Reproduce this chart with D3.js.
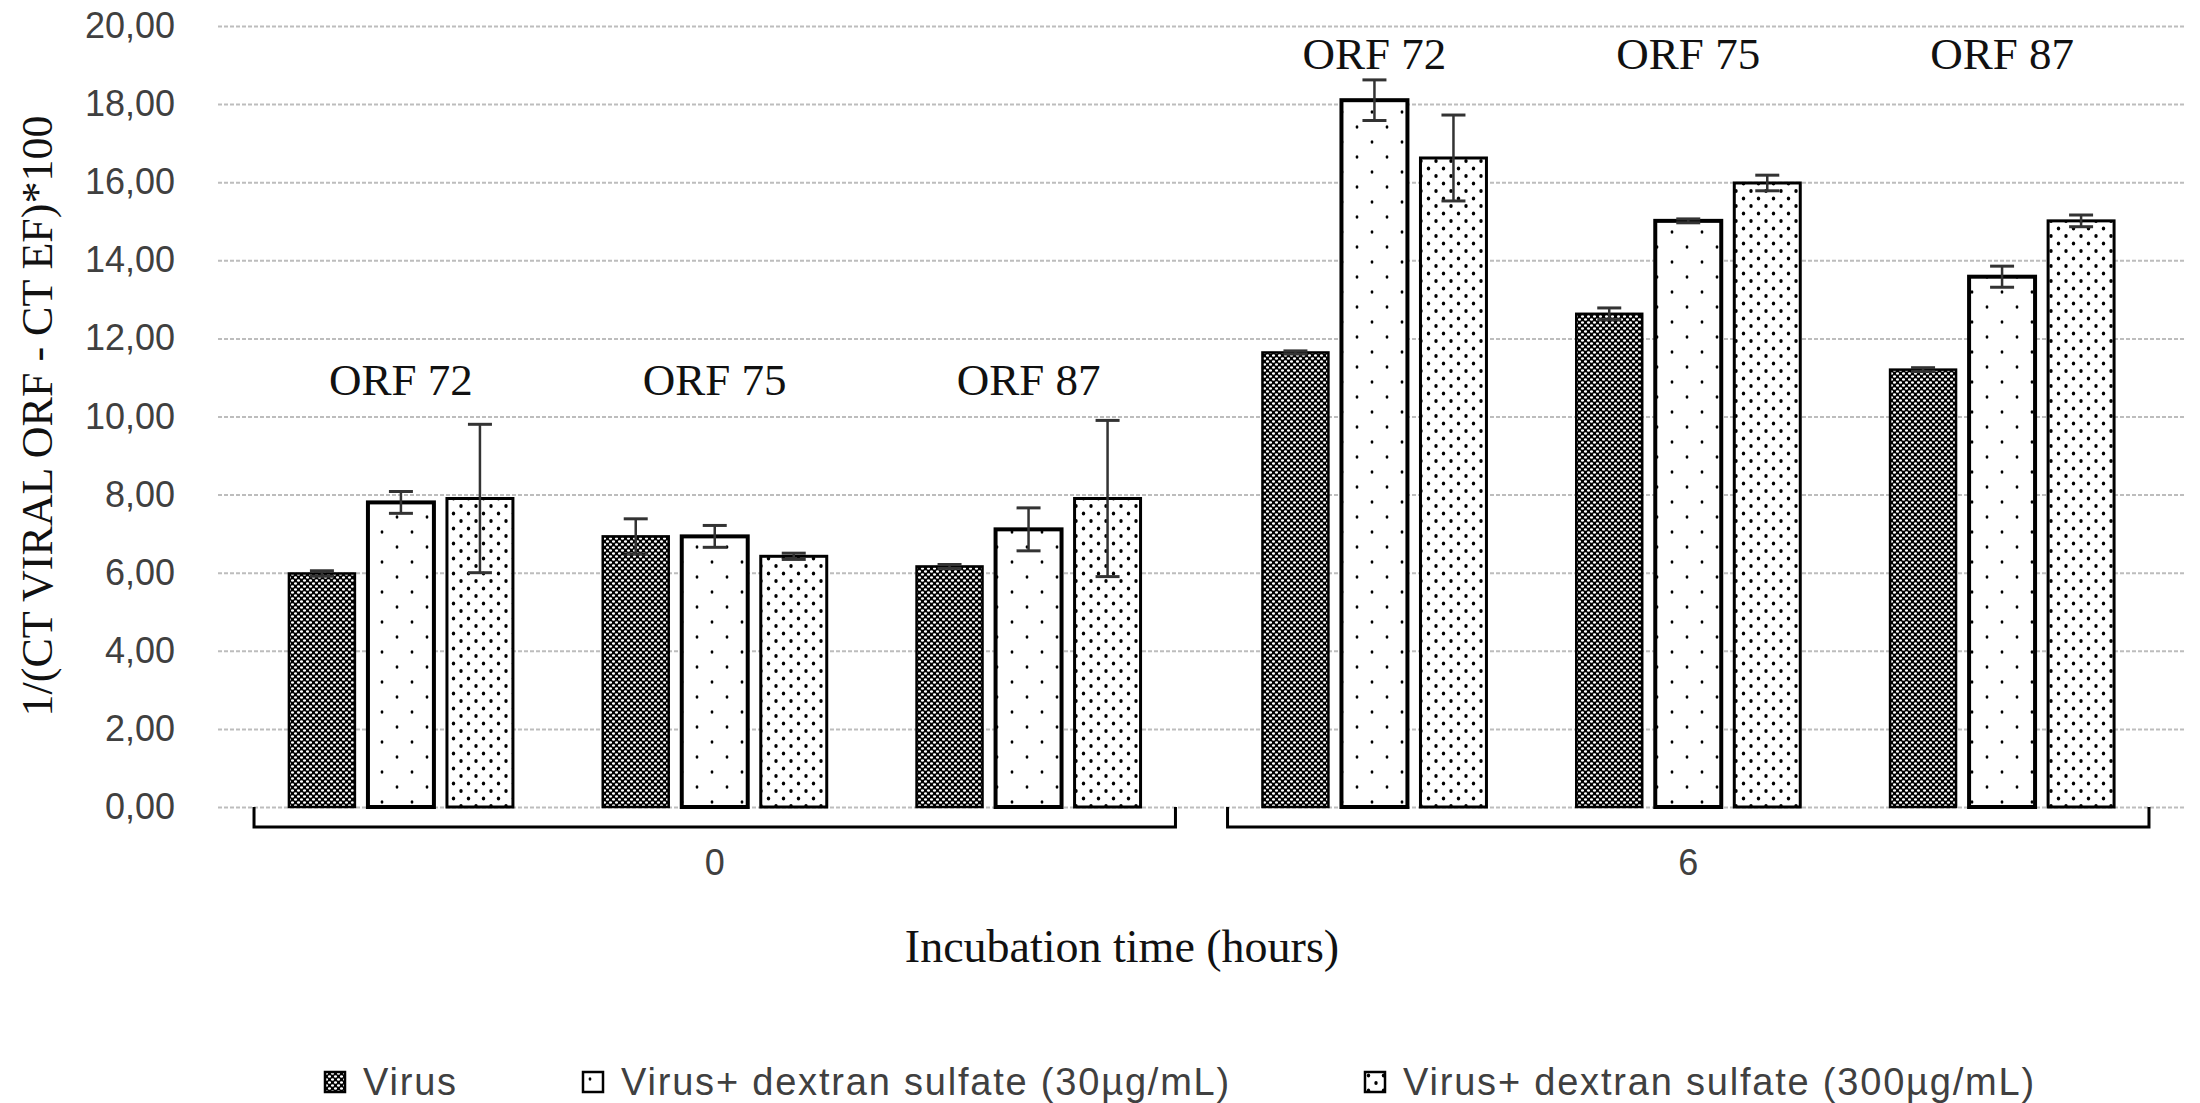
<!DOCTYPE html>
<html lang="en">
<head>
<meta charset="UTF-8">
<title>Viral ORF expression</title>
<script src="https://d3js.org/d3.v7.min.js"></script>
<style>
  body { margin: 0; background: #fff; }
  svg { display: block; }
</style>
</head>
<body>
<div id="container"></div>
<script>
// ---- data ----
const times = ['0', '6'];
const orfs = ['ORF 72', 'ORF 75', 'ORF 87'];
const series = ['Virus', 'Virus+ dextran sulfate (30µg/mL)', 'Virus+ dextran sulfate (300µg/mL)'];

// values in order: t0 ORF72, t0 ORF75, t0 ORF87, t6 ORF72, t6 ORF75, t6 ORF87
const virusVals = [5.98, 6.93, 6.16, 11.64, 12.63, 11.20];
const ds30Vals  = [7.80, 6.93, 7.11, 18.10, 15.01, 13.58];
const ds300Vals = [7.90, 6.42, 7.90, 16.62, 15.98, 15.01];

const virusErr = [0.07, 0.45, 0.05, 0.04, 0.15, 0.05];
const ds30Err  = [0.28, 0.28, 0.55, 0.52, 0.05, 0.27];
const ds300Err = [1.90, 0.08, 2.00, 1.10, 0.20, 0.15];

// height (in axis units) where the ORF names sit, per time group
const orfLabelLevel = [10.55, 18.9];

const yTicks = [0, 2, 4, 6, 8, 10, 12, 14, 16, 18, 20];

// ---- layout ----
const W = 2200, H = 1103;
const plotLeft = 218, plotRight = 2185, plotTop = 26, plotBottom = 807;

const svg = d3.select('#container').append('svg')
  .attr('width', W).attr('height', H);
svg.append('rect').attr('width', W).attr('height', H).attr('fill', '#fff');

// patterns
const defs = svg.append('defs');
const pDark = defs.append('pattern').attr('id', 'pDark')
  .attr('patternUnits', 'userSpaceOnUse').attr('width', 6).attr('height', 6);
pDark.append('rect').attr('width', 6).attr('height', 6).attr('fill', '#000');
pDark.append('ellipse').attr('cx', 1.5).attr('cy', 1.5).attr('rx', 1.6).attr('ry', 1.3).attr('fill', '#fff');
pDark.append('ellipse').attr('cx', 4.5).attr('cy', 4.5).attr('rx', 1.6).attr('ry', 1.3).attr('fill', '#fff');

const pSparse = defs.append('pattern').attr('id', 'pSparse')
  .attr('patternUnits', 'userSpaceOnUse').attr('width', 30).attr('height', 30);
pSparse.append('rect').attr('width', 30).attr('height', 30).attr('fill', '#fff');
pSparse.append('ellipse').attr('cx', 7).attr('cy', 7).attr('rx', 1.4).attr('ry', 1.8).attr('fill', '#000');
pSparse.append('ellipse').attr('cx', 22).attr('cy', 22).attr('rx', 1.4).attr('ry', 1.8).attr('fill', '#000');

const pDense = defs.append('pattern').attr('id', 'pDense')
  .attr('patternUnits', 'userSpaceOnUse').attr('width', 15).attr('height', 15);
pDense.append('rect').attr('width', 15).attr('height', 15).attr('fill', '#fff');
pDense.append('ellipse').attr('cx', 3.5).attr('cy', 3.5).attr('rx', 1.7).attr('ry', 1.9).attr('fill', '#000');
pDense.append('ellipse').attr('cx', 11).attr('cy', 11).attr('rx', 1.7).attr('ry', 1.9).attr('fill', '#000');

const fills = ['url(#pDark)', 'url(#pSparse)', 'url(#pDense)'];
const borderW = [2.5, 4, 3];

// scales
const y = d3.scaleLinear().domain([0, 20]).range([plotBottom, plotTop]);

const x0 = d3.scaleBand().domain(times).range([plotLeft, plotRight])
  .paddingInner(0.0535).paddingOuter(0.037);
const x1 = d3.scaleBand().domain(orfs).range([-10, x0.bandwidth() + 10]);
const x2 = d3.scaleBand().domain(series).range([-112, 112]).paddingInner(0.165);

// y axis with gridlines
const loc = d3.formatLocale({ decimal: ',', thousands: '.', grouping: [3], currency: ['', ''] });
const fmt = loc.format('.2f');

const yAxis = svg.append('g')
  .attr('transform', `translate(${plotLeft},0)`)
  .call(d3.axisLeft(y).tickValues(yTicks).tickFormat(fmt)
    .tickSize(-(plotRight - plotLeft)).tickPadding(43));
yAxis.select('.domain').remove();
yAxis.selectAll('.tick line')
  .attr('stroke', '#bdbdbd').attr('stroke-width', 2).attr('stroke-dasharray', '4,2');
yAxis.selectAll('.tick text')
  .attr('font-family', '"Liberation Sans", Arial, sans-serif')
  .attr('font-size', 36).attr('fill', '#404040');

// flatten data
const rows = [];
times.forEach((t, ti) => {
  orfs.forEach((o, oi) => {
    const k = ti * orfs.length + oi;
    [virusVals, ds30Vals, ds300Vals].forEach((arr, si) => {
      const err = [virusErr, ds30Err, ds300Err][si][k];
      rows.push({ time: t, orf: o, series: series[si], si: si, value: arr[k], err: err });
    });
  });
});

const orfCenter = d => x0(d.time) + x1(d.orf) + x1.bandwidth() / 2;

// bars
svg.append('g').selectAll('rect')
  .data(rows)
  .enter()
  .append('rect')
  .attr('x', d => orfCenter(d) + x2(d.series))
  .attr('y', d => y(d.value))
  .attr('width', x2.bandwidth())
  .attr('height', d => y(0) - y(d.value))
  .attr('fill', d => fills[d.si])
  .attr('stroke', '#000')
  .attr('stroke-width', d => borderW[d.si]);

// error bars
const eb = svg.append('g').attr('stroke', '#333').attr('stroke-width', 2.5);
const capW = 12;
rows.forEach(d => {
  const cx = orfCenter(d) + x2(d.series) + x2.bandwidth() / 2;
  const yHi = y(d.value + d.err), yLo = y(d.value - d.err);
  eb.append('line').attr('x1', cx).attr('x2', cx).attr('y1', yHi).attr('y2', yLo);
  eb.append('line').attr('x1', cx - capW).attr('x2', cx + capW).attr('y1', yHi).attr('y2', yHi).attr('stroke-width', 3);
  eb.append('line').attr('x1', cx - capW).attr('x2', cx + capW).attr('y1', yLo).attr('y2', yLo).attr('stroke-width', 3);
});

// ORF labels
times.forEach((t, ti) => {
  svg.append('g').selectAll('text')
    .data(orfs)
    .enter()
    .append('text')
    .attr('x', o => x0(t) + x1(o) + x1.bandwidth() / 2)
    .attr('y', y(orfLabelLevel[ti]))
    .attr('text-anchor', 'middle')
    .attr('font-family', '"Liberation Serif", "Times New Roman", serif')
    .attr('font-size', 45)
    .attr('fill', '#111')
    .text(o => o);
});

// category brackets for the time groups
const bracketDrop = 20;
svg.append('g').selectAll('path')
  .data(times)
  .enter()
  .append('path')
  .attr('d', t => {
    const a = x0(t), b = x0(t) + x0.bandwidth();
    return `M${a},${plotBottom}V${plotBottom + bracketDrop}H${b}V${plotBottom}`;
  })
  .attr('fill', 'none').attr('stroke', '#000').attr('stroke-width', 3);

svg.append('g').selectAll('text')
  .data(times)
  .enter()
  .append('text')
  .attr('x', t => x0(t) + x0.bandwidth() / 2)
  .attr('y', 875)
  .attr('text-anchor', 'middle')
  .attr('font-family', '"Liberation Sans", Arial, sans-serif')
  .attr('font-size', 36)
  .attr('fill', '#404040')
  .text(t => t);

// axis titles
svg.append('text')
  .attr('x', 1122).attr('y', 962)
  .attr('text-anchor', 'middle')
  .attr('font-family', '"Liberation Serif", "Times New Roman", serif')
  .attr('font-size', 46).attr('fill', '#111')
  .text('Incubation time (hours)');

svg.append('text')
  .attr('transform', 'translate(52,416) rotate(-90)')
  .attr('text-anchor', 'middle')
  .attr('font-family', '"Liberation Serif", "Times New Roman", serif')
  .attr('font-size', 44).attr('fill', '#111')
  .text('1/(CT VIRAL ORF - CT EF)*100');

// legend
const legendX = [325, 583, 1365];
const legend = svg.append('g').selectAll('g')
  .data(series)
  .enter()
  .append('g')
  .attr('transform', (d, i) => `translate(${legendX[i]},1072)`);
legend.append('rect')
  .attr('width', 20).attr('height', 20)
  .attr('fill', (d, i) => fills[i])
  .attr('stroke', '#000').attr('stroke-width', 2.5);
legend.append('text')
  .attr('x', 38).attr('y', 10)
  .attr('dy', '0.35em')
  .attr('font-family', '"Liberation Sans", Arial, sans-serif')
  .attr('font-size', 38)
  .attr('letter-spacing', 1.8)
  .attr('fill', '#404040')
  .text(d => d);
</script>
</body>
</html>
